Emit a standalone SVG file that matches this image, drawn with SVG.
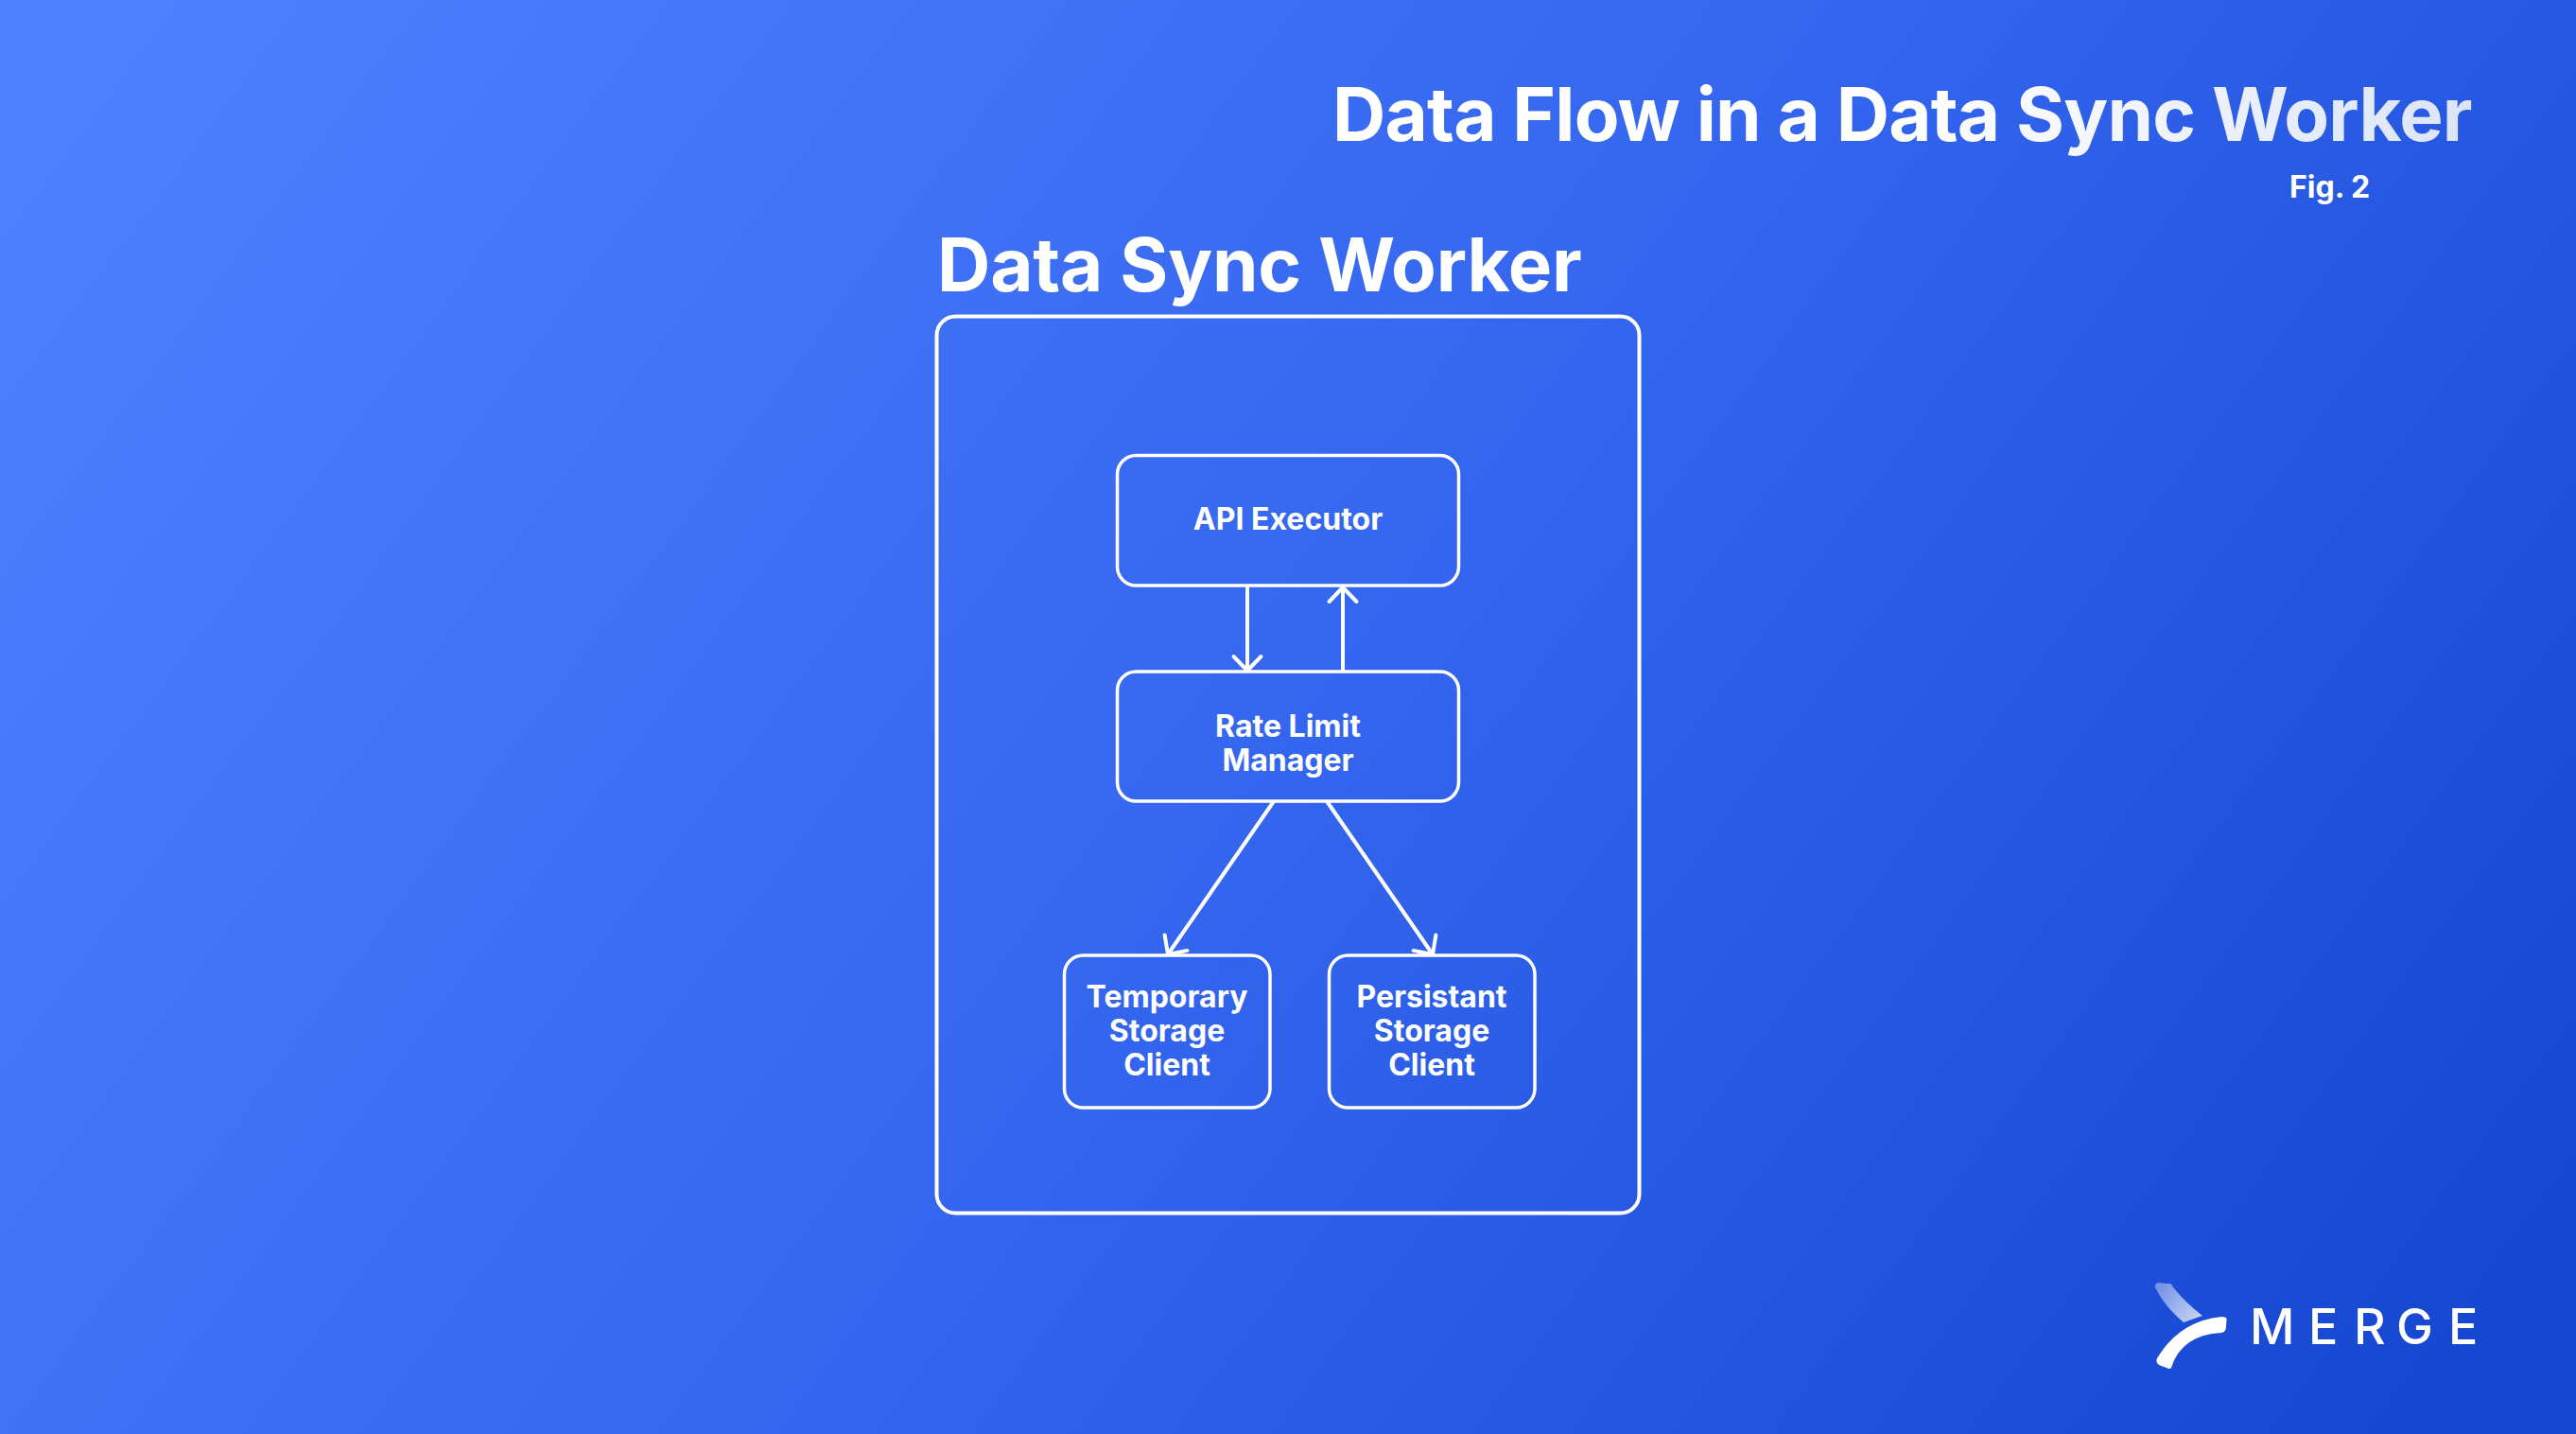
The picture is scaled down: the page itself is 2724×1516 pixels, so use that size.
<svg xmlns="http://www.w3.org/2000/svg" width="2724" height="1516" viewBox="0 0 2724 1516">
<defs>
<linearGradient id="bg" gradientUnits="userSpaceOnUse" x1="200" y1="-100" x2="2524" y2="1616">
<stop offset="0" stop-color="#4F80FF"/><stop offset="0.5" stop-color="#3466EF"/><stop offset="1" stop-color="#1446D0"/>
</linearGradient>
<linearGradient id="tt" gradientUnits="userSpaceOnUse" x1="1413" y1="0" x2="2614" y2="0">
<stop offset="0" stop-color="#fff"/><stop offset="0.5" stop-color="#fff"/><stop offset="1" stop-color="#DCE4F9"/>
</linearGradient>
<linearGradient id="lg" gradientUnits="userSpaceOnUse" x1="2285" y1="1360" x2="2325" y2="1395">
<stop offset="0" stop-color="#fff" stop-opacity="0.4"/><stop offset="1" stop-color="#fff" stop-opacity="0.75"/>
</linearGradient>
<marker id="arr" markerUnits="userSpaceOnUse" markerWidth="40" markerHeight="40" refX="20" refY="20" orient="auto">
<path d="M5 5.5L20 20L5 34.5" fill="none" stroke="#fff" stroke-width="4" stroke-linecap="round" stroke-linejoin="round"/>
</marker>
</defs>
<style>
text{font-family:Inter,"Liberation Sans",sans-serif;fill:#fff}
.h{font-size:78px;font-weight:700}
.n{font-size:32px;font-weight:700;text-anchor:middle}
.b{fill:none;stroke:#fff;stroke-width:3.5}
.c{fill:none;stroke:#fff;stroke-width:4;marker-end:url(#arr)}
</style>
<rect width="2724" height="1516" fill="url(#bg)"/>
<g id="title"><text class="h" x="1409" y="148.5" letter-spacing="-0.8" style="fill:url(#tt)">Data Flow in a Data Sync Worker</text></g>
<g id="fig"><text x="2421" y="208.5" font-size="32" font-weight="700">Fig. 2</text></g>
<g id="worker">
<text class="h" x="991" y="307.5" letter-spacing="-0.2">Data Sync Worker</text>
<rect x="990.5" y="334.5" width="743" height="948" rx="20" fill="none" stroke="#fff" stroke-width="4"/>
</g>
<g id="api"><rect class="b" x="1181.5" y="481.5" width="361" height="137.5" rx="20"/><text class="n" x="1362" y="559.5">API Executor</text></g>
<g id="rate"><rect class="b" x="1181.5" y="710" width="361" height="137" rx="20"/><text class="n" x="1362" y="778.5">Rate Limit</text><text class="n" x="1362" y="814.5">Manager</text></g>
<g id="temp"><rect class="b" x="1125.5" y="1010" width="217.5" height="161" rx="20"/><text class="n" x="1234" y="1065">Temporary</text><text class="n" x="1234" y="1101">Storage</text><text class="n" x="1234" y="1137">Client</text></g>
<g id="pers"><rect class="b" x="1405.5" y="1010" width="217.5" height="161" rx="20"/><text class="n" x="1514" y="1065">Persistant</text><text class="n" x="1514" y="1101">Storage</text><text class="n" x="1514" y="1137">Client</text></g>
<g id="connectors">
<path class="c" d="M1319 619V709"/>
<path class="c" d="M1420 710V621"/>
<path class="c" d="M1347 847L1235 1009"/>
<path class="c" d="M1403 847L1515 1009"/>
</g>
<g id="logo">
<path d="M2280 1363Q2277 1358 2282 1356L2292 1357Q2296 1356 2298 1361Q2311 1377 2329 1391L2309 1398Q2290 1382 2280 1363Z" fill="url(#lg)"/>
<path d="M2354 1393Q2355 1392 2354 1402Q2354 1408 2349 1409Q2307 1411 2296 1446Q2294 1448 2291 1446L2283 1443Q2279 1440 2281 1436Q2305 1396 2350 1392Z" fill="#fff"/>
<text x="2379 2441 2489 2534 2589" y="1421" font-size="52" font-weight="500">MERGE</text>
</g>
</svg>
